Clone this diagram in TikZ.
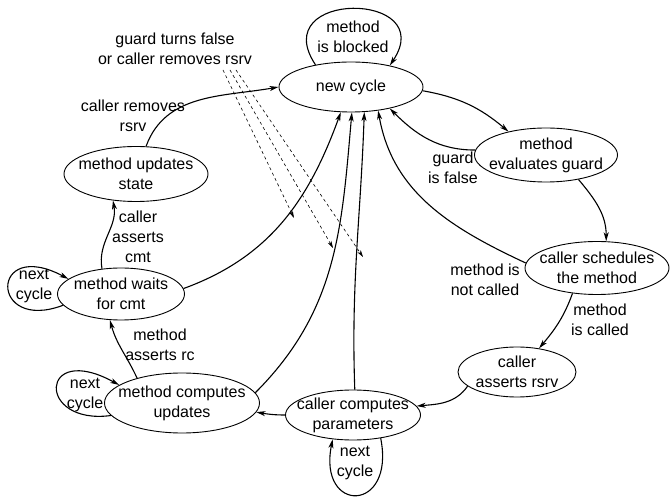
\documentclass[tikz,border=0pt]{standalone}
\usepackage{fontspec}
\setmainfont{Liberation Sans}
\usetikzlibrary{arrows.meta, shapes.geometric}

\begin{document}
\begin{tikzpicture}[
	x=1pt,
	y=1pt,
	font=\fontsize{16}{20}\selectfont,
	state/.style={
		draw,
		ellipse,
		line width=.9pt,
		inner xsep=-20pt,
		inner ysep=-10pt,
		align=center
	},
	lbl/.style={
		align=center,
		inner sep=0pt
	},
	trans/.style={
		line width=1.1pt,
		-{Stealth[length=9pt,width=5pt,inset=2.5pt]}
	},
	event/.style={
		dashed,
		line width=.6pt,
		-{Stealth[length=7pt,width=4pt,inset=2pt]}
	}
	]
	\useasboundingbox (0,0) rectangle (670,498);

	% states
	\node[state, minimum width=144pt, minimum height=50pt] (nc) at (351,411) {new cycle};
	\node[state, minimum width=143pt, minimum height=54pt] (eg) at (546,343) {method\\evaluates guard};
	\node[state, minimum width=144pt, minimum height=53pt] (cs) at (597,230) {caller schedules\\the method};
	\node[state, minimum width=118pt, minimum height=50pt] (car) at (517,126) {caller\\asserts rsrv};
	\node[state, minimum width=135pt, minimum height=50pt] (ccp) at (353,83) {caller computes\\parameters};
	\node[state, minimum width=155pt, minimum height=60pt] (mcu) at (182,95) {method computes\\updates};
	\node[state, minimum width=127pt, minimum height=52pt] (mw) at (121,204) {method waits\\for cmt};
	\node[state, minimum width=144pt, minimum height=55pt] (mus) at (136,324) {method updates\\state};

	% transition labels
	\node[lbl] (lblocked) at (353,461) {method\\is blocked};
	\node[lbl] (lguard) at (175,449) {guard turns false\\or caller removes rsrv};
	\node[lbl] (lremoves) at (133,382) {caller removes\\rsrv};
	\node[lbl] (lcmt) at (138,261) {caller\\asserts\\cmt};
	\node[lbl] (lnext1) at (34,212) {next\\cycle};
	\node[lbl] (lrc) at (160,153) {method\\asserts rc};
	\node[lbl] (lnext2) at (85,103) {next\\cycle};
	\node[lbl] (lnext3) at (355,35) {next\\cycle};
	\node[lbl] (lcalled) at (600,178) {method\\is called};
	\node[lbl] (lnotcalled) at (485,218) {method is\\not called};
	\node[lbl] (lfalse) at (453,330) {guard\\is false};

	% transitions
	\draw[trans] (nc.-3) to[out=-10, in=140] (eg.148);
	\draw[trans] (eg.176) to[out=180, in=-45] (nc.-29);
	\draw[trans] (eg.-37) to[out=-50, in=90] (cs.71);
	\draw[trans] (cs.176) to[out=155, in=-80] (nc.-41);
	\draw[trans] (cs.-134) to[out=-110, in=50] (car.47);
	\draw[trans] (car.-164) to[out=-125, in=5] (ccp.8);
	\draw[trans] (ccp.180) to[out=180, in=-10] (mcu.-7);
	\draw[trans] (ccp.86) to[out=92, in=-92] (nc.-62);
	\draw[trans] (mcu.8) to[out=45, in=-95] (nc.-88);
	\draw[trans] (mw.5) to[out=20, in=-110] (nc.-112);
	\draw[trans] (mcu.151) to[out=115, in=-75] (mw.-113);
	\draw[trans] (mw.127) to[out=100, in=-80] (mus.-131);
	\draw[trans] (mus.70) to[out=70, in=190] (nc.180);

	% self loops
	\draw[trans] (nc.148) .. controls +(-50,75) and +(50,75) .. (nc.29);
	\draw[trans] (mw.191) .. controls +(-74,-28) and +(-79,42) .. (mw.164);
	\draw[trans] (mcu.190) .. controls +(-75,-10) and +(-80,44) .. (mcu.164);
	\draw[trans] (ccp.-40) .. controls +(15,-75) and +(-15,-75) .. (ccp.-130);

	% guard / rsrv events
	\coordinate (d1) at (223,428);
	\coordinate (d2) at (230,428);
	\coordinate (d3) at (236,428);
	\coordinate (d1e) at (294,280);
	\coordinate (d2e) at (333,250);
	\coordinate (d3e) at (363,241);
	\draw[event] (d1) -- (d1e);
	\draw[event] (d2) -- (d2e);
	\draw[event] (d3) -- (d3e);
\end{tikzpicture}
\end{document}
